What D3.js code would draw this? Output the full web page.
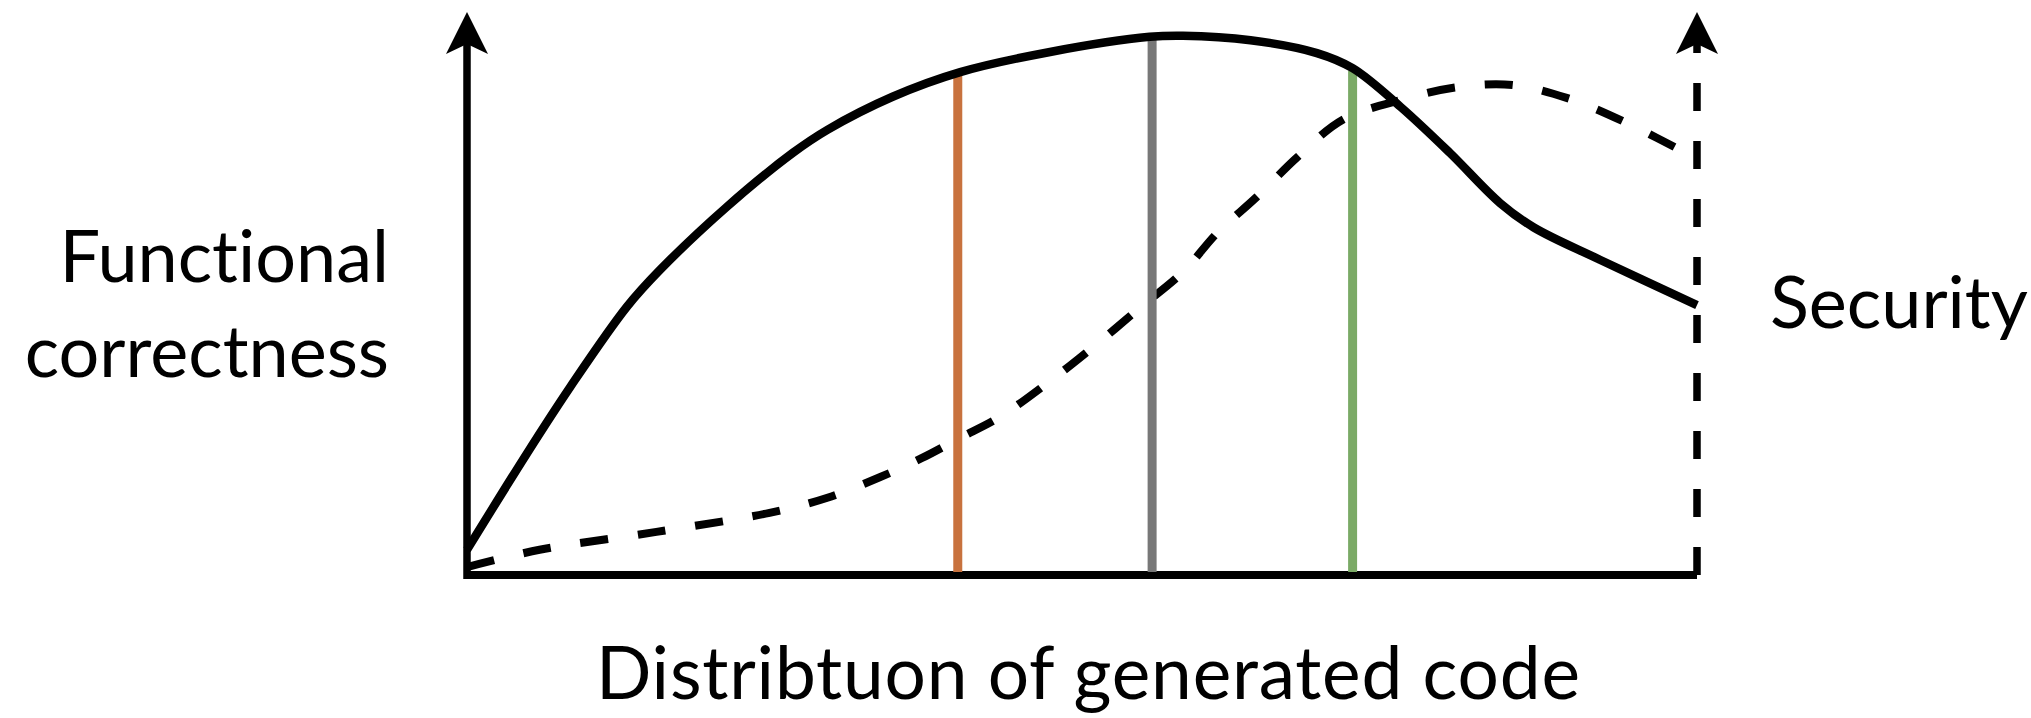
<!DOCTYPE html>
<html>
<head>
<meta charset="utf-8">
<script src="https://cdn.jsdelivr.net/npm/d3@7"></script>
<style>
  html, body { margin: 0; padding: 0; background: #fff; }
  svg { display: block; }
  text { font-family: Lato, "Open Sans", sans-serif; fill: #000; font-variant-ligatures: none; }
</style>
</head>
<body>
<svg id="chart"></svg>
<script>
// distribution position (0-100) and value (0-100)
const correctnessX = [0, 4.9, 8.4, 13.0, 15.7, 21.1, 26.5, 29.3, 34.6, 40.1, 47.4, 55.5, 58.2, 63.7, 69.1, 72.0, 75.9, 79.9, 84.0, 86.7, 92.1, 100];
const correctnessY = [4.5, 21.8, 33.6, 47.9, 54.5, 65.7, 75.4, 79.5, 85.4, 89.8, 93.4, 96.1, 96.3, 95.5, 93.2, 90.5, 83.6, 75.4, 66.4, 62.1, 56.3, 48.2];

const securityX = [0, 5.9, 15.4, 24.6, 29.3, 33.6, 37.0, 40.1, 43.3, 47.2, 50.9, 54.7, 58.2, 61.0, 64.2, 67.5, 71.2, 75.9, 80.5, 85.0, 89.4, 94.3, 100];
const securityY = [1.4, 4.5, 7.7, 11.1, 13.8, 17.5, 20.9, 24.5, 28.2, 34.3, 40.7, 47.7, 54.1, 61.1, 67.5, 74.6, 81.3, 84.8, 87.1, 87.5, 85.2, 80.7, 74.3];

// three marker lines under the correctness curve
const markerX = [39.9, 55.7, 72.0];
const markerTop = [89.4, 95.6, 90.0];
const markerColors = ["#c8723e", "#787878", "#7baa66"];

const yLabelLines = ["Functional", "correctness"];
const y2Label = "Security";
const xLabel = "Distribtuon of generated code";

const width = 2031, height = 718;
const margin = { top: 15, right: 334, bottom: 143, left: 467 };

const svg = d3.select("#chart").attr("width", width).attr("height", height);

const x = d3.scaleLinear().domain([0, 100]).range([margin.left, width - margin.right]);
const y = d3.scaleLinear().domain([0, 100]).range([height - margin.bottom, margin.top]);

const x0 = x(0), x1 = x(100), yb = y(0);

const line = d3.line().x(d => x(d[0])).y(d => y(d[1])).curve(d3.curveCatmullRom.alpha(0.5));

// axes
svg.append("line")
    .attr("x1", x0).attr("x2", x1).attr("y1", yb).attr("y2", yb)
    .attr("stroke", "#000").attr("stroke-width", 8);
svg.append("line")
    .attr("x1", x0).attr("x2", x0).attr("y1", yb + 4).attr("y2", 40)
    .attr("stroke", "#000").attr("stroke-width", 7.5);
svg.append("line")
    .attr("x1", x1).attr("x2", x1).attr("y1", yb).attr("y2", 40)
    .attr("stroke", "#000").attr("stroke-width", 7.5)
    .attr("stroke-dasharray", "28,30");

// arrow heads
const arrow = cx => `M${cx},12 L${cx + 21},54 L${cx},44 L${cx - 21},54 Z`;
[x0, x1].forEach(cx => {
    svg.append("path").attr("d", arrow(cx)).attr("fill", "#000");
});

// security curve (dashed)
svg.append("path")
    .datum(d3.zip(securityX, securityY))
    .attr("d", line)
    .attr("fill", "none")
    .attr("stroke", "#000")
    .attr("stroke-width", 8)
    .attr("stroke-dasharray", "28,30");

// marker lines
svg.selectAll(".marker")
    .data(markerX)
    .enter().append("line")
    .attr("class", "marker")
    .attr("x1", d => x(d)).attr("x2", d => x(d))
    .attr("y1", yb - 3)
    .attr("y2", (d, i) => y(markerTop[i]))
    .attr("stroke", (d, i) => markerColors[i])
    .attr("stroke-width", 9);

// functional correctness curve
svg.append("path")
    .datum(d3.zip(correctnessX, correctnessY))
    .attr("d", line)
    .attr("fill", "none")
    .attr("stroke", "#000")
    .attr("stroke-width", 8.5)
    .attr("stroke-linecap", "butt");

// labels
const yl = svg.append("text")
    .attr("text-anchor", "end")
    .style("font-size", "72px");
yLabelLines.forEach((t, i) => {
    yl.append("tspan").attr("x", 389).attr("y", 282 + i * 95).text(t);
});

svg.append("text")
    .attr("x", 1770).attr("y", 328)
    .style("font-size", "72px")
    .text(y2Label);

svg.append("text")
    .attr("x", 1088).attr("y", 699)
    .attr("text-anchor", "middle")
    .attr("textLength", 984)
    .attr("lengthAdjust", "spacing")
    .style("font-size", "73px")
    .text(xLabel);
</script>
</body>
</html>
